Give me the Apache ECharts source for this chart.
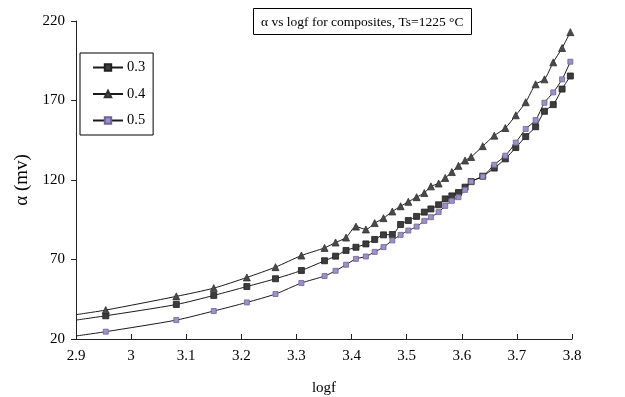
<!DOCTYPE html>
<html>
<head>
<meta charset="utf-8">
<script src="https://cdn.jsdelivr.net/npm/echarts@6/dist/echarts.min.js"></script>
<style>
html, body { margin: 0; padding: 0; background: #fff; }
#chart { width: 625px; height: 397px; }
</style>
</head>
<body>
<div id="chart"></div>
<script>
// log10 of measuring frequency
const logf = [2.954, 3.082, 3.150, 3.210, 3.262, 3.309, 3.351, 3.371, 3.390, 3.408,
  3.426, 3.442, 3.458, 3.474, 3.489, 3.503, 3.518, 3.532, 3.544, 3.558,
  3.570, 3.582, 3.594, 3.606, 3.617, 3.638, 3.659, 3.679, 3.698, 3.716,
  3.734, 3.750, 3.766, 3.782, 3.797];

// where each curve enters the plot at the left border
const edgeLogf = 2.9;
const edge03 = 31.9;
const edge04 = 35.3;
const edge05 = 21.9;

// alpha (mV) for each composition
const alpha03 = [34.6, 41.7, 47.4, 53.0, 57.9, 63.1, 69.2, 72.1, 75.7, 77.7,
  79.8, 82.6, 85.5, 85.7, 92.0, 94.5, 97.1, 99.8, 101.8, 104.4,
  108.1, 110.0, 112.1, 115.5, 119.0, 122.4, 127.5, 133.3, 140.4, 147.3,
  153.5, 163.2, 167.4, 177.2, 185.4];
const alpha04 = [38.2, 46.8, 52.0, 58.7, 65.2, 72.5, 77.3, 80.7, 83.8, 90.7,
  88.9, 92.9, 96.0, 100.2, 103.5, 106.3, 109.2, 111.8, 116.0, 117.8,
  121.3, 125.0, 128.9, 132.3, 134.5, 141.3, 147.9, 152.7, 160.7, 168.9,
  180.2, 183.3, 194.0, 203.0, 213.0];
const alpha05 = [24.6, 31.9, 37.6, 43.0, 48.3, 55.2, 59.6, 62.9, 66.7, 70.4,
  71.9, 74.8, 77.8, 82.0, 85.5, 88.2, 90.7, 94.3, 96.6, 99.8,
  103.7, 106.9, 109.2, 113.8, 119.0, 122.2, 129.6, 135.3, 143.5, 152.1,
  157.7, 168.6, 175.1, 183.3, 194.4];

const seriesNames = ['0.3', '0.4', '0.5'];
const xTicks = [2.9, 3.0, 3.1, 3.2, 3.3, 3.4, 3.5, 3.6, 3.7, 3.8];
const yTicks = [20, 70, 120, 170, 220];

const FONT = '"Liberation Serif", "DejaVu Serif", serif';

function pairs(edge, values) {
  const out = [{ value: [edgeLogf, edge], symbol: 'none' }];
  values.forEach((v, i) => out.push([logf[i], v]));
  return out;
}

function makeSeries(name, edge, values, symbol, size, fill, border) {
  return {
    name: name,
    type: 'line',
    data: pairs(edge, values),
    smooth: 0.25,
    symbol: symbol,
    symbolSize: size,
    showAllSymbol: true,
    clip: false,
    lineStyle: { color: '#1a1a1a', width: 1 },
    itemStyle: { color: fill, borderColor: border, borderWidth: 0.8 },
    emphasis: { disabled: true },
    animation: false
  };
}

const chart = echarts.init(document.getElementById('chart'), null, { renderer: 'canvas' });

chart.setOption({
  backgroundColor: '#ffffff',
  animation: false,
  title: {
    text: 'α vs logf for composites, Ts=1225 °C',
    left: 253,
    top: 8,
    padding: [7, 8, 6, 8],
    borderColor: '#000',
    borderWidth: 1,
    textStyle: { fontFamily: FONT, fontSize: 13.5, fontWeight: 'normal', color: '#000' }
  },
  legend: {
    data: seriesNames,
    orient: 'vertical',
    left: 80,
    top: 53,
    padding: [7, 8, 7, 12],
    itemGap: 11.5,
    itemWidth: 30,
    itemHeight: 8,
    borderColor: '#000',
    borderWidth: 1,
    textStyle: { fontFamily: FONT, fontSize: 14.5, color: '#000', padding: [0, 0, 0, -1] }
  },
  grid: { left: 76, right: 53, top: 21, bottom: 58, outerBoundsMode: 'none', containLabel: false },
  xAxis: {
    type: 'value',
    min: 2.9,
    max: 3.8,
    name: 'logf',
    nameLocation: 'middle',
    nameGap: 42,
    nameTextStyle: { fontFamily: FONT, fontSize: 15, color: '#000' },
    axisLine: { lineStyle: { color: '#222', width: 1 } },
    axisTick: { show: true, inside: true, length: 5, customValues: xTicks, lineStyle: { color: '#222' } },
    axisLabel: {
      customValues: xTicks,
      margin: 10,
      fontFamily: FONT, fontSize: 15, color: '#000',
      formatter: v => String(+v.toFixed(1))
    },
    splitLine: { show: false }
  },
  yAxis: {
    type: 'value',
    min: 20,
    max: 220,
    name: 'α (mv)',
    nameLocation: 'middle',
    nameGap: 37,
    nameRotate: 90,
    nameTextStyle: { fontFamily: FONT, fontSize: 19, color: '#000' },
    axisLine: { show: true, lineStyle: { color: '#222', width: 1 } },
    axisTick: { show: true, inside: false, length: 5, customValues: yTicks, lineStyle: { color: '#222' } },
    axisLabel: { customValues: yTicks, margin: 11, fontFamily: FONT, fontSize: 15, color: '#000' },
    splitLine: { show: false }
  },
  series: [
    makeSeries('0.3', edge03, alpha03, 'rect', 6, '#3c3c3c', '#202020'),
    makeSeries('0.4', edge04, alpha04, 'triangle', 7, '#4a4a4a', '#303030'),
    makeSeries('0.5', edge05, alpha05, 'rect', 5, '#9d90c8', '#6f6399')
  ]
});
</script>
</body>
</html>
